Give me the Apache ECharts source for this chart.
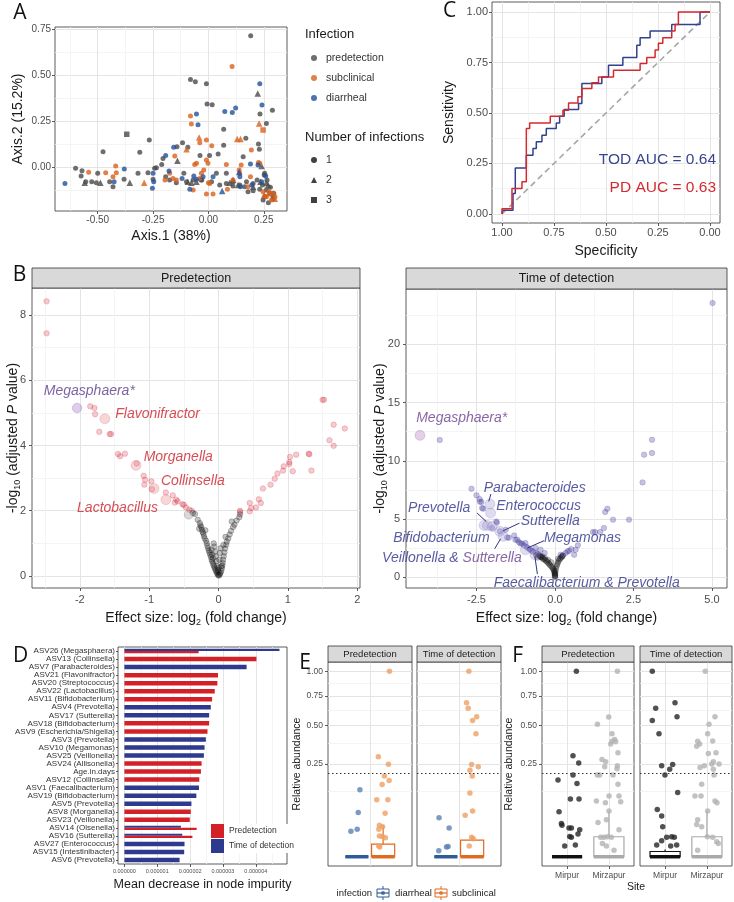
<!DOCTYPE html>
<html><head><meta charset="utf-8">
<script src="https://cdn.jsdelivr.net/npm/echarts@6/dist/echarts.min.js"></script>
<style>html,body{margin:0;padding:0;background:#fff}#c{width:734px;height:902px}</style>
</head><body><div id="c"></div>
<script>
// ================= DATA =================
// ---- Panel A (PCoA) ----
const aPreCircle = [[0.191,0.714],[-0.081,0.476],[-0.059,0.464],[-0.009,0.453],[-0.006,0.342],[0.017,0.339],[0.289,0.308],[0.262,0.237],[0.233,0.288],[0.069,0.205],[-0.267,0.147],[-0.31,0.08],[-0.476,0.083],[-0.117,0.132],[-0.093,0.107],[-0.142,0.11],[0.069,0.118],[0.169,0.156],[0.226,0.125],[0.044,0.071],[0.005,0.062],[-0.038,0.063],[0.157,0.056],[0.23,0.096],[-0.205,0.047],[-0.211,0.014],[-0.235,-0.004],[-0.243,-0.007],[-0.6,-0.007],[-0.571,-0.02],[-0.575,-0.049],[-0.554,-0.08],[-0.527,-0.08],[-0.506,-0.085],[-0.5,-0.034],[-0.446,-0.08],[-0.431,-0.107],[-0.381,-0.067],[-0.318,-0.034],[-0.273,-0.031],[-0.25,-0.067],[-0.193,-0.053],[-0.175,-0.071],[-0.145,-0.085],[-0.111,-0.034],[-0.099,-0.08],[-0.069,-0.071],[-0.033,-0.071],[0.014,-0.08],[0.036,-0.034],[0.081,-0.034],[0.111,-0.08],[0.142,-0.098],[0.172,-0.08],[0.202,-0.089],[0.22,-0.071],[0.244,-0.098],[0.252,-0.043],[0.254,-0.034],[0.262,-0.125],[0.277,-0.143],[0.292,-0.161],[0.247,-0.179],[0.271,-0.194],[0.292,-0.176],[0.295,-0.143],[0.232,-0.121],[0.202,-0.129],[0.179,-0.134],[0.164,-0.107],[0.111,-0.103],[0.081,-0.089],[0.051,-0.098],[-0.03,-0.071],[0.265,-0.07],[0.28,-0.11],[0.255,-0.16]];
const aPreTriangle = [[0.223,0.4],[-0.14,0.034],[-0.355,-0.085],[-0.488,-0.085],[-0.559,-0.085],[-0.093,-0.08],[-0.077,-0.085],[-0.054,-0.08],[0.096,-0.085],[0.111,-0.071],[0.134,-0.098],[0.24,0.005],[0.262,-0.085],[0.27,-0.098],[0.235,-0.08],[0.202,-0.107]];
const aPreSquare = [[-0.369,0.178]];
const aSubCircle = [[0.107,0.547],[-0.081,0.277],[-0.077,0.234],[-0.039,0.132],[-0.009,0.147],[0.015,0.116],[-0.152,0.06],[-0.054,0.02],[-0.062,0.014],[-0.009,0.038],[-0.002,0.02],[-0.021,-0.016],[-0.032,-0.034],[-0.039,-0.062],[0.081,0.014],[0.139,-0.016],[0.148,0.011],[0.194,0.092],[0.226,0.024],[0.232,0.02],[0.19,-0.053],[0.0,-0.085],[0.006,-0.089],[-0.009,-0.147],[0.021,-0.147],[-0.069,-0.125],[-0.419,0.005],[-0.416,-0.031],[-0.541,-0.029],[-0.464,-0.031],[-0.431,-0.053],[-0.175,-0.034],[-0.16,-0.062],[-0.145,-0.071],[-0.196,-0.071],[0.086,-0.121],[0.111,-0.071],[0.141,-0.034],[0.178,-0.107],[0.247,-0.134],[0.262,-0.161],[0.274,-0.134],[0.292,-0.143],[0.301,-0.161],[0.285,-0.179]];
const aSubTriangle = [[-0.042,0.161],[-0.099,0.096],[0.145,0.152],[0.229,0.237],[-0.29,-0.085],[0.252,-0.152],[0.274,-0.143],[0.3,-0.172],[0.13,0.152]];
const aSubSquare = [[0.247,0.201]];
const aDiaCircle = [[0.232,0.453],[0.242,0.337],[0.074,0.302],[0.108,0.297],[0.123,0.321],[-0.054,0.288],[-0.047,0.23],[-0.193,0.062],[-0.157,0.107],[-0.25,-0.034],[-0.247,-0.08],[-0.253,-0.116],[-0.38,-0.011],[-0.426,-0.08],[-0.648,-0.089],[-0.178,-0.022],[-0.119,-0.062],[-0.084,-0.121],[-0.066,-0.049],[-0.054,-0.067],[-0.024,-0.053],[0.021,-0.053],[0.142,-0.053],[0.19,0.016],[0.224,0.011],[0.259,-0.049],[0.241,-0.08],[0.196,-0.098],[0.145,-0.107]];
const aDiaTriangle = [[0.062,-0.13],[0.139,-0.027]];
const aXTicks = [-0.5,-0.25,0,0.25];
const aYTicks = [0,0.25,0.5,0.75];

// ---- Panel C (ROC) ----
const cPdRoc = [[1,0],[1,0.026],[0.952,0.126],[0.904,0.159],[0.883,0.423],[0.867,0.451],[0.768,0.484],[0.707,0.514],[0.68,0.55],[0.635,0.58],[0.616,0.621],[0.568,0.65],[0.536,0.679],[0.464,0.712],[0.336,0.745],[0.304,0.775],[0.264,0.812],[0.248,0.845],[0.227,0.873],[0.184,0.906],[0.168,0.939],[0.152,1],[0,1]];
const cTodRoc = [[1,0],[0.995,0.018],[0.947,0.101],[0.936,0.228],[0.883,0.291],[0.851,0.324],[0.835,0.357],[0.808,0.39],[0.787,0.423],[0.739,0.451],[0.723,0.484],[0.701,0.517],[0.632,0.547],[0.616,0.646],[0.52,0.679],[0.488,0.737],[0.419,0.775],[0.352,0.836],[0.336,0.873],[0.288,0.906],[0.184,0.939],[0.048,1],[0,1]];
const cDiagonal = [[1,0],[0,1]];
const cTicks = [0,0.25,0.5,0.75,1];
const cAucText = ['TOD AUC = 0.64','PD AUC = 0.63'];

// ---- Panel B (volcano) ----
const bPreSig = [[-2.48,8.42],[-2.48,7.44],[-1.85,5.2],[-1.79,5.15],[-1.78,4.96],[-1.72,4.42],[-1.57,4.35],[-1.55,4.35],[-1.45,3.74],[-1.42,3.67],[-1.35,3.75],[-1.18,3.45],[-1.08,3.07],[-1.06,2.95],[-1.07,2.8],[-0.97,2.9],[-0.96,2.66],[-0.76,2.56],[-0.66,2.47],[-0.61,2.34],[-0.59,2.29],[-0.63,2.25],[-0.52,2.2],[-0.5,2.18],[-0.47,2.1],[-0.42,2.03],[-0.385,2.0],[0.31,2.0],[0.31,1.96],[0.45,1.98],[0.45,2.24],[0.47,2.08],[0.54,2.1],[0.58,2.35],[0.61,2.24],[0.64,2.68],[0.75,2.8],[0.81,2.98],[0.85,3.14],[0.93,3.23],[0.94,3.36],[1.02,3.43],[1.02,3.49],[1.03,3.65],[1.12,3.72],[1.07,3.21],[1.3,3.75],[1.31,3.73],[1.34,3.23],[1.5,5.4],[1.52,5.4],[1.66,4.64],[1.66,3.99],[1.6,4.16],[1.82,4.52]];
const bPreNs = [[-0.34,1.9],[-0.37,1.93],[-0.3,1.72],[-0.27,1.62],[-0.26,1.55],[-0.25,1.5],[-0.24,1.42],[-0.23,1.35],[-0.22,1.3],[-0.21,1.22],[-0.2,1.15],[-0.18,1.08],[-0.17,1.0],[-0.16,0.92],[-0.15,0.85],[-0.14,0.78],[-0.13,0.72],[-0.12,0.65],[-0.11,0.58],[-0.1,0.5],[-0.09,0.44],[-0.08,0.38],[-0.07,0.32],[-0.06,0.27],[-0.05,0.22],[-0.04,0.17],[-0.03,0.12],[-0.02,0.08],[-0.01,0.04],[0,0.01],[0.01,0.02],[0.02,0.06],[0.03,0.1],[0.04,0.16],[0.05,0.24],[0.055,0.32],[0.06,0.4],[0.065,0.5],[0.075,0.6],[0.085,0.72],[0.095,0.84],[0.11,0.96],[0.12,1.05],[0.14,1.15],[0.16,1.27],[0.18,1.38],[0.21,1.5],[0.23,1.57],[0.26,1.7],[0.19,1.67],[0.3,1.8],[0.31,1.89],[-0.04,0.6],[-0.05,0.75],[-0.06,0.9],[-0.07,1.0],[-0.03,0.45],[-0.02,0.3],[0.0,0.25],[0.01,0.5],[0.02,0.7],[0.03,0.85],[-0.08,0.55],[-0.09,0.65],[-0.1,0.8],[0.0,0.12],[-0.01,0.18],[0.04,0.3],[-0.28,1.45],[-0.19,1.4],[0.1,1.2],[0.07,0.95]];
const bPreBig = [[-2.04,5.15],[-1.64,4.82],[-1.19,3.39],[-0.93,2.68],[-0.76,2.34],[-0.43,1.88]];
const bPreLabels = ['Megasphaera*','Flavonifractor','Morganella','Collinsella','Lactobacillus'];
const bPreLabelXY = [[-2.52,5.68],[-1.49,4.96],[-1.08,3.64],[-0.83,2.9],[-2.04,2.08]];
const bTodSig = [[5.02,23.54],[-3.67,11.79],[-2.66,7.61],[-2.5,7.04],[-2.4,6.72],[-2.34,6.46],[-2.32,5.95],[-2.28,5.9],[-2.39,6.5],[-2.0,4.24],[-1.87,4.8],[-1.85,4.7],[-1.75,3.95],[-1.57,4.09],[-1.52,3.43],[-1.47,3.4],[-1.3,3.6],[-1.26,3.23],[-1.2,3.23],[-1.15,3.03],[-1.1,2.9],[-1.05,2.9],[-0.99,2.75],[-0.94,2.95],[-0.9,2.6],[-0.85,2.5],[-0.8,2.4],[-0.75,2.3],[-0.7,2.2],[-0.62,2.52],[-0.6,2.1],[-0.55,2.0],[-0.46,2.38],[-0.5,1.9],[-0.45,1.8],[-0.33,2.09],[0.18,1.95],[0.21,1.8],[0.25,1.9],[0.34,2.09],[0.4,2.23],[0.45,2.29],[0.52,2.43],[0.61,1.94],[0.66,2.37],[0.73,2.75],[1.21,3.89],[1.28,3.89],[1.44,3.89],[1.56,4.23],[1.6,5.61],[1.67,5.89],[1.85,4.95],[2.36,4.95],[2.79,8.15],[2.84,10.53],[3.09,10.67],[3.09,11.81]];
const bTodNs = [[-0.5,1.85],[-0.45,1.75],[-0.42,1.7],[-0.38,1.6],[-0.35,1.55],[-0.3,1.45],[-0.27,1.4],[-0.24,1.3],[-0.2,1.2],[-0.17,1.1],[-0.14,1.0],[-0.1,0.9],[-0.07,0.8],[-0.05,0.7],[-0.03,0.6],[-0.02,0.5],[-0.01,0.4],[-0.01,0.3],[0,0.2],[0,0.1],[0,0.02],[0.01,0.15],[0.01,0.35],[0.02,0.55],[0.03,0.75],[0.05,0.95],[0.07,1.1],[0.09,1.25],[0.12,1.4],[0.15,1.55],[0.18,1.65],[0.22,1.75],[-0.4,1.8],[-0.32,1.65],[-0.22,1.5],[-0.12,1.3],[-0.6,1.9],[-0.55,1.7],[0.1,1.6],[0.25,1.85]];
const bTodBig = [[-4.3,12.19],[-2.07,6.29],[-2.05,5.52],[-2.26,4.46],[-2.15,4.45],[-2.0,4.37],[-1.76,3.95],[-1.65,3.52],[-0.94,2.37],[-0.64,1.94]];
const bTodLabels = ['Megasphaera*','Parabacteroides','Enterococcus','Prevotella','Sutterella','Bifidobacterium','Megamonas','Veillonella & Sutterella','Faecalibacterium & Prevotella'];
const bTodLabelXY = [[-4.42,13.67],[-2.27,7.67],[-1.87,6.09],[-4.68,5.95],[-1.09,4.8],[-2.08,3.38],[-0.35,3.38],[-1.06,1.66],[-1.95,-0.48]];
const bTodLeaders = [[[-2.04,7.15],[-2.11,6.52]],[[-2.48,5.52],[-2.19,4.8]],[[-1.13,4.66],[-1.65,4.0]],[[-1.73,3.32],[-1.92,2.46]],[[-0.35,3.15],[-0.88,2.52]],[[-0.64,1.8],[-0.56,0.29]]];
const bPreXTicks = [-2,-1,0,1,2], bPreYTicks = [0,2,4,6,8];
const bTodXTicks = [-2.5,0,2.5,5], bTodYTicks = [0,5,10,15,20];

// ---- Panel D (importance, units of 1e-6) ----
const dCategories = ['ASV26 (Megasphaera)','ASV13 (Collinsella)','ASV7 (Parabacteroides)','ASV21 (Flavonifractor)','ASV20 (Streptococcus)','ASV22 (Lactobacillus)','ASV11 (Bifidobacterium)','ASV4 (Prevotella)','ASV17 (Sutterella)','ASV18 (Bifidobacterium)','ASV9 (Escherichia/Shigella)','ASV3 (Prevotella)','ASV10 (Megamonas)','ASV25 (Veillonella)','ASV24 (Allisonella)','Age.in.days','ASV12 (Collinsella)','ASV1 (Faecalibacterium)','ASV19 (Bifidobacterium)','ASV5 (Prevotella)','ASV8 (Morganella)','ASV23 (Veillonella)','ASV14 (Olsenella)','ASV16 (Sutterella)','ASV27 (Enterococcus)','ASV15 (Intestinibacter)','ASV6 (Prevotella)'];
const dPredetection = [2.26,4.02,null,2.85,2.83,2.75,2.67,null,null,2.58,2.53,null,null,null,2.35,2.33,2.28,null,null,null,2.02,1.99,2.20,2.07,null,null,null];
const dTimeOfDetection = [4.72,null,3.72,null,null,null,null,2.63,2.58,null,null,2.48,2.44,2.42,null,null,null,2.27,2.19,2.04,null,null,1.72,1.76,1.83,1.82,1.68];
const dTicks = [0,1,2,3,4];

// ---- Panel E (relative abundance by infection) [x jitter, value] ----
const ePreDiarrheal = [[0.856,0.13],[0.832,0.057],[0.817,0.022],[0.727,0.019]];
const ePreSubclinical = [[1.278,1.0],[1.119,0.29],[1.263,0.249],[1.206,0.19],[1.273,0.169],[1.173,0.152],[1.096,0.094],[1.255,0.094],[1.216,0.055],[1.134,0.029],[1.18,0.026],[1.125,0.022],[1.134,0.0124],[1.177,0.012],[1.22,0.0105],[1.125,0.0033],[1.14,0.0028]];
const eTodDiarrheal = [[0.715,0.044],[0.859,0.024],[0.821,0.0027],[0.844,0.003],[0.711,0.001]];
const eTodSubclinical = [[1.141,1.0],[1.108,0.69],[1.131,0.64],[1.252,0.57],[1.194,0.54],[1.242,0.44],[1.18,0.247],[1.275,0.235],[1.156,0.218],[1.189,0.19],[1.156,0.118],[1.194,0.061],[1.088,0.05],[1.18,0.011],[1.203,0.0095],[1.146,0.0033]];
const ePreDiarrhealBox = [0,0,0,0,0];
const ePreSubclinicalBox = [0,0,0,0.0046,0.029];
const eTodDiarrhealBox = [0,0,0,0,0];
const eTodSubclinicalBox = [0,0,0,0.0081,0.0117];
const abundanceThreshold = 0.2;
const abundanceTicks = [0.25,0.5,0.75,1];
const abundanceMinor = [0.125,0.375,0.625,0.875];

// ---- Panel F (relative abundance by site) ----
const fPreMirpur = [[1.222,1.0],[1.141,0.296],[1.278,0.255],[1.141,0.194],[0.783,0.171],[1.237,0.156],[1.079,0.097],[1.285,0.097],[0.807,0.059],[0.864,0.032],[0.878,0.029],[1.046,0.024],[1.103,0.024],[1.302,0.021],[1.062,0.012],[1.103,0.011],[1.261,0.015],[0.943,0.0033],[1.198,0.004]];
const fPreMirzapur = [[2.203,1.0],[1.995,0.568],[1.725,0.51],[2.074,0.44],[2.138,0.4],[2.074,0.388],[2.162,0.385],[2.043,0.37],[2.217,0.314],[1.835,0.275],[1.923,0.262],[1.899,0.235],[2.203,0.24],[2.193,0.225],[1.725,0.194],[1.78,0.194],[2.098,0.194],[2.217,0.153],[2.002,0.107],[2.241,0.107],[2.282,0.088],[1.701,0.09],[1.916,0.085],[2.002,0.061],[1.739,0.034],[1.94,0.04],[2.241,0.021],[1.804,0.011],[1.882,0.011],[1.964,0.0116],[2.059,0.011],[1.844,0.005],[1.94,0.0033],[2.122,0.0012]];
const fTodMirpur = [[0.694,1.0],[1.237,0.69],[0.775,0.64],[1.285,0.57],[0.694,0.54],[0.854,0.44],[0.918,0.24],[1.181,0.247],[1.11,0.223],[0.997,0.194],[1.301,0.12],[0.813,0.065],[0.918,0.048],[0.943,0.026],[1.158,0.0116],[1.221,0.011],[1.038,0.011],[0.918,0.0074],[0.799,0.004],[1.134,0.0033],[1.277,0.004]];
const fTodMirzapur = [[1.961,1.0],[2.193,0.57],[2.05,0.51],[2.018,0.44],[2.138,0.39],[1.779,0.388],[1.827,0.37],[1.755,0.355],[2.034,0.31],[2.218,0.314],[2.154,0.262],[2.114,0.25],[1.938,0.24],[2.154,0.223],[1.835,0.232],[2.289,0.25],[2.17,0.194],[1.875,0.153],[1.714,0.107],[1.859,0.107],[2.193,0.09],[2.241,0.085],[2.018,0.061],[1.779,0.04],[1.755,0.03],[1.875,0.026],[2.01,0.0116],[2.138,0.011],[2.234,0.0065],[1.779,0.0012],[2.273,0.005]];
const fPreMirpurBox = [0,0,0,0,0];
const fPreMirzapurBox = [0,0,0,0.0116,0.061];
const fTodMirpurBox = [0,0,0,0.0008,0.0015];
const fTodMirzapurBox = [0,0,0,0.0116,0.061];
const fSites = ['Mirpur','Mirzapur'];

// ================= BUILD =================
const FONT = '"Liberation Sans", Arial, Helvetica, sans-serif';
const MAJOR = '#e4e4e4', MINOR = '#f1f1f1';
const grids = [
  {left:55, top:27, width:232, height:184},   // 0 A
  {left:492, top:2, width:228, height:221},   // 1 C
  {left:32, top:288, width:328, height:300},  // 2 B1
  {left:406, top:289, width:321, height:299}, // 3 B2
  {left:118, top:647, width:169, height:217}, // 4 D
  {left:328, top:662, width:84, height:204},  // 5 E1
  {left:417, top:662, width:84, height:204},  // 6 E2
  {left:542, top:662, width:92, height:204},  // 7 F1
  {left:640, top:662, width:92, height:204}   // 8 F2
].map(g => Object.assign(g, {show:true, borderColor:'#333', borderWidth:0.8, backgroundColor:'transparent', containLabel:false, outerBoundsMode:'none'}));

const xAxes = [], yAxes = [], series = [], graphics = [];
function addX(cfg, minor){ cfg.position = minor ? 'top' : 'bottom'; cfg.offset = 0; xAxes.push(cfg); return xAxes.length - 1; }
function addY(cfg, minor){ cfg.position = minor ? 'right' : 'left'; cfg.offset = 0; yAxes.push(cfg); return yAxes.length - 1; }
function minorAx(grid, min, max, vals, extra){
  return Object.assign({type:'value', gridIndex:grid, min, max, axisLine:{show:false, onZero:false},
    axisTick:{show:false, customValues:vals}, axisLabel:{show:false, customValues:vals},
    splitLine:{show:true, lineStyle:{color:MINOR, width:0.8}}, nameMoveOverlap:false}, extra||{});
}
function majorAx(grid, min, max, ticks, o){
  o = o || {};
  return Object.assign({type:'value', gridIndex:grid, min, max, axisLine:{show:false, onZero:false},
    axisTick:{show:o.tick !== false, length:3, lineStyle:{color:'#333', width:0.8}, customValues:ticks},
    axisLabel:{show:o.label !== false, customValues:ticks, formatter:o.fmt, color:'#4d4d4d', fontSize:o.fs||10, fontFamily:FONT, margin:o.margin||4},
    splitLine:{show:true, lineStyle:{color:MAJOR, width:1}},
    name:o.name, nameLocation:'middle', nameGap:o.gap, nameMoveOverlap:false,
    nameTextStyle:Object.assign({fontFamily:FONT, color:'#1a1a1a', fontSize:o.nfs||13}, o.nts||{})}, o.extra||{});
}
const f2 = v => v.toFixed(2);
const sq = Math.sqrt;

// ---------- Panel A ----------
addX(minorAx(0, -0.693, 0.355, [-0.625,-0.375,-0.125,0.125]), true);
addY(minorAx(0, -0.239, 0.761, [-0.125,0.125,0.375,0.625]), true);
const aX = addX(majorAx(0, -0.693, 0.355, aXTicks, {fmt:f2, name:'Axis.1 (38%)', gap:18, nfs:14, nts:{verticalAlign:'top'}}));
const aY = addY(majorAx(0, -0.239, 0.761, aYTicks, {fmt:f2, name:'Axis.2 (15.2%)', gap:30, nfs:14}));
const aCol = {predetection:'#4a4a4a', subclinical:'#d9601a', diarrheal:'#22509a'};
function aSer(name, data, symbol, size){
  series.push({type:'scatter', name, xAxisIndex:aX, yAxisIndex:aY, data, symbol, symbolSize:size,
    itemStyle:{color:aCol[name]}, z:3, silent:true});
}
aSer('predetection', aPreCircle, 'circle', 5); aSer('predetection', aPreTriangle, 'triangle', 6.5); aSer('predetection', aPreSquare, 'rect', 5.5);
aSer('subclinical', aSubCircle, 'circle', 5); aSer('subclinical', aSubTriangle, 'triangle', 6.5); aSer('subclinical', aSubSquare, 'rect', 5.5);
aSer('diarrheal', aDiaCircle, 'circle', 5); aSer('diarrheal', aDiaTriangle, 'triangle', 6.5);
['1','2','3'].forEach((n,i) => series.push({type:'scatter', name:n, xAxisIndex:aX, yAxisIndex:aY, data:[], symbol:['circle','triangle','rect'][i], itemStyle:{color:'#111'}}));

// ---------- Panel C ----------
addX(minorAx(1, -0.048, 1.048, [0.125,0.375,0.625,0.875], {inverse:true}), true);
addY(minorAx(1, -0.045, 1.05, [0.125,0.375,0.625,0.875]), true);
const cX = addX(majorAx(1, -0.048, 1.048, cTicks, {fmt:f2, fs:11, name:'Specificity', gap:21, nfs:14, nts:{verticalAlign:'top'}, extra:{inverse:true}}));
const cY = addY(majorAx(1, -0.045, 1.05, cTicks, {fmt:f2, fs:11, name:'Sensitivity', gap:36, nfs:14}));
series.push({type:'line', xAxisIndex:cX, yAxisIndex:cY, data:cDiagonal, showSymbol:false, silent:true, lineStyle:{color:'#a6a6a6', width:1.6, type:[6,4]}, z:2});
series.push({type:'line', xAxisIndex:cX, yAxisIndex:cY, data:cTodRoc, step:'end', showSymbol:false, silent:true, lineStyle:{color:'#33408e', width:1.5}, z:3});
series.push({type:'line', xAxisIndex:cX, yAxisIndex:cY, data:cPdRoc, step:'end', showSymbol:false, silent:true, lineStyle:{color:'#d42a2e', width:1.5}, z:4});

// ---------- Panel B ----------
const richY = {s:{fontSize:9, verticalAlign:'bottom', lineHeight:10, fontFamily:FONT, color:'#1a1a1a'}, i:{fontStyle:'italic', fontSize:14, fontFamily:FONT, color:'#1a1a1a'}};
const yName = '-log{s|10} (adjusted {i|P} value)';
const xName = 'Effect size: log{s|2} (fold change)';
addX(minorAx(2, -2.69, 2.04, [-2.5,-1.5,-0.5,0.5,1.5]), true);
addY(minorAx(2, -0.37, 8.83, [1,3,5,7]), true);
const b1X = addX(majorAx(2, -2.69, 2.04, bPreXTicks, {fs:11, margin:6, name:xName, gap:21, nfs:14, nts:{lineHeight:18, verticalAlign:'top', rich:richY}}));
const b1Y = addY(majorAx(2, -0.37, 8.83, bPreYTicks, {fs:11, margin:6, name:yName, gap:10, nfs:14, nts:{lineHeight:18, rich:richY}}));
addX(minorAx(3, -4.745, 5.48, [-3.75,-1.25,1.25,3.75]), true);
addY(minorAx(3, -0.91, 24.75, [2.5,7.5,12.5,17.5,22.5]), true);
const b2X = addX(majorAx(3, -4.745, 5.48, bTodXTicks, {fmt:v => v.toFixed(1), fs:11, margin:6, name:xName, gap:21, nfs:14, nts:{lineHeight:18, verticalAlign:'top', rich:richY}}));
const b2Y = addY(majorAx(3, -0.91, 24.75, bTodYTicks, {fs:11, margin:6, name:yName, gap:17, nfs:14, nts:{lineHeight:18, rich:richY}}));

const nsStyle = {color:'rgba(30,30,30,0.33)', borderColor:'rgba(0,0,0,0.45)', borderWidth:0.6};
function pts(xi, yi, data, size, style, z){ series.push({type:'scatter', xAxisIndex:xi, yAxisIndex:yi, data, symbolSize:size, itemStyle:style, z:z||3, silent:true}); }
pts(b1X, b1Y, bPreSig, 5.5, {color:'rgba(220,50,70,0.32)', borderColor:'rgba(200,30,50,0.45)', borderWidth:0.6});
pts(b1X, b1Y, bPreNs, 5.5, nsStyle);
pts(b1X, b1Y, bPreBig.slice(1,5), 10, {color:'rgba(232,120,128,0.38)', borderColor:'rgba(205,80,90,0.45)', borderWidth:0.6});
pts(b1X, b1Y, bPreBig.slice(0,1), 9.5, {color:'rgba(170,130,200,0.5)', borderColor:'rgba(130,90,170,0.55)', borderWidth:0.6});
pts(b1X, b1Y, bPreBig.slice(5), 9, {color:'rgba(150,150,150,0.45)', borderColor:'rgba(90,90,90,0.5)', borderWidth:0.6});
pts(b2X, b2Y, bTodSig, 5.5, {color:'rgba(70,60,160,0.38)', borderColor:'rgba(55,45,140,0.45)', borderWidth:0.6});
pts(b2X, b2Y, bTodNs, 5.5, nsStyle);
pts(b2X, b2Y, bTodBig.slice(1), 10, {color:'rgba(150,140,205,0.38)', borderColor:'rgba(120,110,185,0.45)', borderWidth:0.6});
pts(b2X, b2Y, bTodBig.slice(0,1), 10, {color:'rgba(190,140,195,0.5)', borderColor:'rgba(150,100,160,0.55)', borderWidth:0.6});

function labelSer(xi, yi, names, xy, colorFn, alignLeft, leaders){
  const data = names.map((n,i) => {
    const leftSide = alignLeft.includes(n);
    return {value:xy[i], name:n, label:{show:true, position: leftSide ? 'left':'right', distance:0,
      formatter: n === 'Veillonella & Sutterella' ? '{a|Veillonella & }{b|Sutterella}' : n,
      color:colorFn(n), fontSize:14, fontStyle:'italic', fontFamily:FONT,
      rich:{a:{color:'#2e3288', fontSize:14, fontStyle:'italic', fontFamily:FONT}, b:{color:'#6a3d8f', fontSize:14, fontStyle:'italic', fontFamily:FONT}}}};
  });
  const s = {type:'scatter', xAxisIndex:xi, yAxisIndex:yi, data, symbolSize:0, clip:false, silent:true, z:6, labelLayout:{hideOverlap:false}};
  if (leaders) s.markLine = {silent:true, symbol:'none', label:{show:false}, lineStyle:{color:'#2e3288', width:1, type:'solid'}, animation:false,
    data: leaders.map(l => [{coord:l[0]},{coord:l[1]}])};
  series.push(s);
}
labelSer(b1X, b1Y, bPreLabels, bPreLabelXY, n => n === 'Megasphaera*' ? '#5b3a8c' : '#cc2229', [], null);
labelSer(b2X, b2Y, bTodLabels, bTodLabelXY, n => n === 'Megasphaera*' ? '#6b3d8f' : '#2e3288', ['Bifidobacterium','Veillonella & Sutterella'], bTodLeaders);

// ---------- Panel D ----------
addX(minorAx(4, -0.195, 4.95, [0.5,1.5,2.5,3.5,4.5]), true);
const dX = addX(majorAx(4, -0.195, 4.95, dTicks, {fmt:v => (v/1e6).toFixed(6), fs:5.5, margin:4, name:'Mean decrease in node impurity', gap:14, nfs:12.5, nts:{verticalAlign:'top'}}));
const dY0 = addY({type:'category', gridIndex:4, data:dCategories, inverse:true, axisLine:{show:false, onZero:false},
  axisTick:{show:true, length:2, alignWithLabel:true, lineStyle:{color:'#333', width:0.8}},
  axisLabel:{fontSize:8, color:'#333', margin:3, fontFamily:FONT, interval:0}, splitLine:{show:false}});
const dY1 = addY({type:'category', gridIndex:4, data:dCategories, inverse:true, show:false}, true);
const both = i => dPredetection[i] != null && dTimeOfDetection[i] != null;
const RED = '#d42027', BLUE = '#2d3a8e';
series.push({type:'bar', name:'Predetection', xAxisIndex:dX, yAxisIndex:dY0, data:dPredetection.map((v,i) => both(i) ? null : v), barWidth:4.5, barGap:'-100%', itemStyle:{color:RED}, silent:true});
series.push({type:'bar', name:'Time of detection', xAxisIndex:dX, yAxisIndex:dY0, data:dTimeOfDetection.map((v,i) => both(i) ? null : v), barWidth:4.5, barGap:'-100%', itemStyle:{color:BLUE}, silent:true});
series.push({type:'bar', name:'Time of detection', xAxisIndex:dX, yAxisIndex:dY1, data:dTimeOfDetection.map((v,i) => both(i) ? v : null), barWidth:2.2, barGap:'0%', itemStyle:{color:BLUE}, silent:true});
series.push({type:'bar', name:'Predetection', xAxisIndex:dX, yAxisIndex:dY1, data:dPredetection.map((v,i) => both(i) ? v : null), barWidth:2.2, barGap:'0%', itemStyle:{color:RED}, silent:true});

// ---------- Panels E & F ----------
const sqTicks = abundanceTicks.map(sq), sqMinor = abundanceMinor.map(sq);
const fmtSq = v => (v*v).toFixed(2);
function boxSer(xi, yi, center, stats, halfW, color){
  series.push({type:'custom', coordinateSystem:'cartesian2d', xAxisIndex:xi, yAxisIndex:yi, silent:true, z:2,
    data:[[center].concat(stats.map(sq))], encode:{x:0, y:[1,2,3,4,5]},
    renderItem:(params, api) => {
      const x = api.value(0), mn = api.value(1), q1 = api.value(2), md = api.value(3), q3 = api.value(4), mx = api.value(5);
      const tl = api.coord([x-halfW, q3]), br = api.coord([x+halfW, q1]);
      const pm = api.coord([x, md]), pmin = api.coord([x, mn]), pmax = api.coord([x, mx]), p1 = api.coord([x, q1]), p3 = api.coord([x, q3]);
      return {type:'group', children:[
        {type:'line', shape:{x1:p3[0], y1:p3[1], x2:pmax[0], y2:pmax[1]}, style:{stroke:color, lineWidth:1.2}},
        {type:'line', shape:{x1:p1[0], y1:p1[1], x2:pmin[0], y2:pmin[1]}, style:{stroke:color, lineWidth:1.2}},
        {type:'rect', shape:{x:tl[0], y:tl[1], width:br[0]-tl[0], height:br[1]-tl[1]}, style:{fill:'rgba(255,255,255,0.4)', stroke:color, lineWidth:1.2}},
        {type:'line', shape:{x1:tl[0], y1:pm[1], x2:br[0], y2:pm[1]}, style:{stroke:color, lineWidth:3.5}}
      ]};
    }});
}
function abundPts(xi, yi, data, color, threshold){
  const s = {type:'scatter', xAxisIndex:xi, yAxisIndex:yi, data:data.map(d => [d[0], sq(d[1])]), symbolSize:5.5, itemStyle:{color, opacity:0.8}, z:4, silent:true};
  if (threshold) s.markLine = {silent:true, symbol:'none', label:{show:false}, animation:false, lineStyle:{color:'#333', width:1, type:[1.5,2.5]}, data:[{yAxis:sq(abundanceThreshold)}]};
  series.push(s);
}
function facetAxes(grid, xmin, xmax, xTicks, showY, showX){
  addY(minorAx(grid, -0.05, 1.05, sqMinor), true);
  const yi = addY(majorAx(grid, -0.05, 1.05, sqTicks, {fmt:fmtSq, fs:8.5, margin:5, tick:showY, label:showY,
    name: showY ? 'Relative abundance' : '', gap: showY ? (grid === 5 ? 25 : 27) : 0, nfs:10.5}));
  const xi = addX(majorAx(grid, xmin, xmax, xTicks, {fmt: v => fSites[Math.round(v)-1], fs:8.5, margin:5, tick:showX, label:showX}));
  return [xi, yi];
}
const eCenters = [0.8125, 1.1875], eHalf = 0.165, fCenters = [1, 2], fHalf = 0.36;
const E_BLUE = '#2c5b9a', E_ORANGE = '#e06a1f', E_BLUE_PT = '#5b82b3', E_ORANGE_PT = '#eea064';
let [e1x, e1y] = facetAxes(5, 0.4, 1.6, [1], true, false);
boxSer(e1x, e1y, eCenters[0], ePreDiarrhealBox, eHalf, E_BLUE);
boxSer(e1x, e1y, eCenters[1], ePreSubclinicalBox, eHalf, E_ORANGE);
abundPts(e1x, e1y, ePreDiarrheal, E_BLUE_PT, true);
abundPts(e1x, e1y, ePreSubclinical, E_ORANGE_PT, false);
let [e2x, e2y] = facetAxes(6, 0.4, 1.6, [1], false, false);
boxSer(e2x, e2y, eCenters[0], eTodDiarrhealBox, eHalf, E_BLUE);
boxSer(e2x, e2y, eCenters[1], eTodSubclinicalBox, eHalf, E_ORANGE);
abundPts(e2x, e2y, eTodDiarrheal, E_BLUE_PT, true);
abundPts(e2x, e2y, eTodSubclinical, E_ORANGE_PT, false);
let [f1x, f1y] = facetAxes(7, 0.4, 2.6, fCenters, true, true);
boxSer(f1x, f1y, fCenters[0], fPreMirpurBox, fHalf, '#111');
boxSer(f1x, f1y, fCenters[1], fPreMirzapurBox, fHalf, '#a9a9a9');
abundPts(f1x, f1y, fPreMirpur, '#262626', true);
abundPts(f1x, f1y, fPreMirzapur, '#b3b3b3', false);
let [f2x, f2y] = facetAxes(8, 0.4, 2.6, fCenters, false, true);
boxSer(f2x, f2y, fCenters[0], fTodMirpurBox, fHalf, '#111');
boxSer(f2x, f2y, fCenters[1], fTodMirzapurBox, fHalf, '#a9a9a9');
abundPts(f2x, f2y, fTodMirpur, '#262626', true);
abundPts(f2x, f2y, fTodMirzapur, '#b3b3b3', false);

// ---------- Graphics: strips, letters, annotations ----------
function gText(x, y, text, style){ graphics.push({type:'text', x, y, silent:true, z:100, style:Object.assign({text, fontFamily:FONT, fill:'#1a1a1a', align:'center', verticalAlign:'middle'}, style)}); }
function gStrip(x1, x2, y1, y2, text, fs){
  graphics.push({type:'rect', silent:true, z:90, shape:{x:x1, y:y1, width:x2-x1, height:y2-y1}, style:{fill:'#d9d9d9', stroke:'#333', lineWidth:0.8}});
  gText((x1+x2)/2, (y1+y2)/2 + 0.5, text, {fontSize:fs});
}
gStrip(32, 360, 268, 288, 'Predetection', 12.5);
gStrip(406, 727, 268, 289, 'Time of detection', 12.5);
gStrip(328, 412, 646, 662, 'Predetection', 9.5);
gStrip(417, 501, 646, 662, 'Time of detection', 9.5);
gStrip(542, 634, 646, 662, 'Predetection', 9.5);
gStrip(640, 732, 646, 662, 'Time of detection', 9.5);
const LETTER = {fontSize:21, fontFamily:'"Open Sans", ' + FONT, fill:'#111'};
gText(20, 13, 'A', LETTER); gText(19.5, 275, 'B', LETTER); gText(449.5, 11, 'C', LETTER);
gText(20.5, 656, 'D', LETTER); gText(305, 663, 'E', LETTER); gText(517.7, 656, 'F', LETTER);
gText(716, 160, cAucText[0], {fontSize:15.5, fill:'#38458f', align:'right'});
gText(716, 188, cAucText[1], {fontSize:15.5, fill:'#d42a2e', align:'right'});
gText(636, 887, 'Site', {fontSize:10.5});
// E legend
gText(372, 893, 'infection', {fontSize:9.5, align:'right'});
function legendBox(cx, cy, color){
  graphics.push({type:'group', silent:true, z:100, children:[
    {type:'line', shape:{x1:cx, y1:cy-7, x2:cx, y2:cy+7}, style:{stroke:color, lineWidth:1}},
    {type:'rect', shape:{x:cx-6, y:cy-4, width:12, height:8}, style:{fill:'#fff', stroke:color, lineWidth:1}},
    {type:'line', shape:{x1:cx-6, y1:cy, x2:cx+6, y2:cy}, style:{stroke:color, lineWidth:1.2}},
    {type:'circle', shape:{cx, cy, r:2}, style:{fill:color, opacity:0.8}}
  ]});
}
legendBox(383, 893, E_BLUE); gText(395, 893, 'diarrheal', {fontSize:9.5, align:'left'});
legendBox(441, 893, E_ORANGE); gText(452, 893, 'subclinical', {fontSize:9.5, align:'left'});

const option = {
  animation:false,
  backgroundColor:'#fff',
  textStyle:{fontFamily:FONT},
  title:[
    {text:'Infection', left:305, top:28, padding:0, textStyle:{fontSize:13, fontWeight:'normal', color:'#1a1a1a', fontFamily:FONT}},
    {text:'Number of infections', left:305, top:131, padding:0, textStyle:{fontSize:13, fontWeight:'normal', color:'#1a1a1a', fontFamily:FONT}}
  ],
  legend:[
    {left:311, top:52, orient:'vertical', padding:0, itemWidth:6, itemHeight:6, itemGap:8, selectedMode:false,
      data:[{name:'predetection', icon:'circle'},{name:'subclinical', icon:'circle'},{name:'diarrheal', icon:'circle'}],
      textStyle:{fontSize:10.5, color:'#333', fontFamily:FONT, lineHeight:12, padding:[0,0,0,4]}},
    {left:311, top:154, orient:'vertical', padding:0, itemWidth:6, itemHeight:6, itemGap:8, selectedMode:false,
      data:[{name:'1', icon:'circle'},{name:'2', icon:'triangle'},{name:'3', icon:'rect'}],
      textStyle:{fontSize:10.5, color:'#333', fontFamily:FONT, lineHeight:12, padding:[0,0,0,4]}},
    {left:211, top:824, orient:'vertical', padding:[0,2,0,0], itemWidth:13, itemHeight:14, itemGap:1, selectedMode:false, backgroundColor:'#fff',
      data:[{name:'Predetection', icon:'rect'},{name:'Time of detection', icon:'rect'}],
      textStyle:{fontSize:8.5, color:'#333', fontFamily:FONT}}
  ],
  grid:grids, xAxis:xAxes, yAxis:yAxes, series, graphic:graphics
};
const chart = echarts.init(document.getElementById('c'), null, {renderer:'canvas'});
chart.setOption(option);
</script></body></html>
